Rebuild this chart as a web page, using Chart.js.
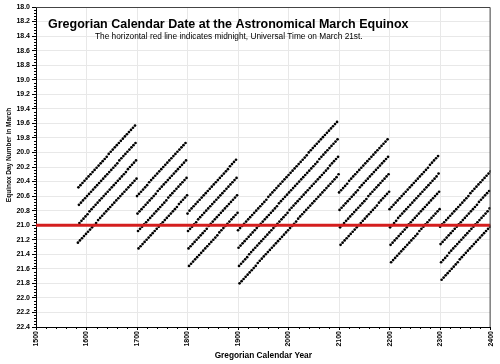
<!DOCTYPE html>
<html>
<head>
<meta charset="utf-8">
<title>Gregorian Calendar Date at the Astronomical March Equinox</title>
<script src="https://cdn.jsdelivr.net/npm/chart.js@4.4.0/dist/chart.umd.min.js"></script>
<style>
    html, body { margin: 0; padding: 0; background: #fff; }
</style>
</head>
<body>
<canvas id="equinox-chart" width="500" height="364"></canvas>
<script>
(function () {
    "use strict";

    // Equinox day number in March, one value per year.
    // Rows are four-year leap cycles.
    var eq1583 = [21.24,
        20.48, 20.72, 20.97, 21.21,
        20.45, 20.69, 20.94, 21.18,
        20.42, 20.66, 20.91, 21.15,
        20.39, 20.63, 20.88, 21.12];

    var eq1600 = [
        20.36, 20.60, 20.85, 21.09,  20.33, 20.57, 20.81, 21.06,
        20.30, 20.54, 20.78, 21.03,  20.27, 20.51, 20.75, 21.00,
        20.24, 20.48, 20.72, 20.97,  20.21, 20.45, 20.69, 20.93,
        20.18, 20.42, 20.66, 20.90,  20.15, 20.39, 20.63, 20.87,
        20.12, 20.36, 20.60, 20.84,  20.09, 20.33, 20.57, 20.81,
        20.06, 20.30, 20.54, 20.78,  20.02, 20.27, 20.51, 20.75,
        19.99, 20.24, 20.48, 20.72,  19.96, 20.21, 20.45, 20.69,
        19.93, 20.18, 20.42, 20.66,  19.90, 20.15, 20.39, 20.63,
        19.87, 20.11, 20.36, 20.60,  19.84, 20.08, 20.33, 20.57,
        19.81, 20.05, 20.30, 20.54,  19.78, 20.02, 20.27, 20.51,
        19.75, 19.99, 20.23, 20.48,  19.72, 19.96, 20.20, 20.45,
        19.69, 19.93, 20.17, 20.42,  19.66, 19.90, 20.14, 20.39,
        19.63, 19.87, 20.11, 20.36];

    var eq1700 = [
        20.60, 20.84, 21.08, 21.32,  20.57, 20.81, 21.05, 21.29,
        20.54, 20.78, 21.02, 21.26,  20.51, 20.75, 20.99, 21.23,
        20.48, 20.72, 20.96, 21.20,  20.45, 20.69, 20.93, 21.17,
        20.41, 20.66, 20.90, 21.14,  20.38, 20.63, 20.87, 21.11,
        20.35, 20.60, 20.84, 21.08,  20.32, 20.57, 20.81, 21.05,
        20.29, 20.53, 20.78, 21.02,  20.26, 20.50, 20.75, 20.99,
        20.23, 20.47, 20.72, 20.96,  20.20, 20.44, 20.69, 20.93,
        20.17, 20.41, 20.66, 20.90,  20.14, 20.38, 20.62, 20.87,
        20.11, 20.35, 20.59, 20.84,  20.08, 20.32, 20.56, 20.81,
        20.05, 20.29, 20.53, 20.78,  20.02, 20.26, 20.50, 20.75,
        19.99, 20.23, 20.47, 20.71,  19.96, 20.20, 20.44, 20.68,
        19.93, 20.17, 20.41, 20.65,  19.90, 20.14, 20.38, 20.62,
        19.87, 20.11, 20.35, 20.59];

    var eq1800 = [
        20.84, 21.08, 21.32, 21.56,  20.80, 21.05, 21.29, 21.53,
        20.77, 21.02, 21.26, 21.50,  20.74, 20.99, 21.23, 21.47,
        20.71, 20.96, 21.20, 21.44,  20.68, 20.92, 21.17, 21.41,
        20.65, 20.89, 21.14, 21.38,  20.62, 20.86, 21.11, 21.35,
        20.59, 20.83, 21.08, 21.32,  20.56, 20.80, 21.05, 21.29,
        20.53, 20.77, 21.01, 21.26,  20.50, 20.74, 20.98, 21.23,
        20.47, 20.71, 20.95, 21.20,  20.44, 20.68, 20.92, 21.17,
        20.41, 20.65, 20.89, 21.14,  20.38, 20.62, 20.86, 21.10,
        20.35, 20.59, 20.83, 21.07,  20.32, 20.56, 20.80, 21.04,
        20.29, 20.53, 20.77, 21.01,  20.26, 20.50, 20.74, 20.98,
        20.23, 20.47, 20.71, 20.95,  20.19, 20.44, 20.68, 20.92,
        20.16, 20.41, 20.65, 20.89,  20.13, 20.38, 20.62, 20.86,
        20.10, 20.35, 20.59, 20.83];

    var eq1900 = [
        21.07, 21.31, 21.56, 21.80,  21.04, 21.28, 21.53, 21.77,
        21.01, 21.25, 21.50, 21.74,  20.98, 21.22, 21.47, 21.71,
        20.95, 21.19, 21.44, 21.68,  20.92, 21.16, 21.40, 21.65,
        20.89, 21.13, 21.37, 21.62,  20.86, 21.10, 21.34, 21.59,
        20.83, 21.07, 21.31, 21.56,  20.80, 21.04, 21.28, 21.52,
        20.77, 21.01, 21.25, 21.49,  20.74, 20.98, 21.22, 21.46,
        20.71, 20.95, 21.19, 21.43,  20.68, 20.92, 21.16, 21.40,
        20.65, 20.89, 21.13, 21.37,  20.61, 20.86, 21.10, 21.34,
        20.58, 20.83, 21.07, 21.31,  20.55, 20.80, 21.04, 21.28,
        20.52, 20.77, 21.01, 21.25,  20.49, 20.74, 20.98, 21.22,
        20.46, 20.70, 20.95, 21.19,  20.43, 20.67, 20.92, 21.16,
        20.40, 20.64, 20.89, 21.13,  20.37, 20.61, 20.86, 21.10,
        20.34, 20.58, 20.83, 21.07];

    var eq2000 = [
        20.31, 20.55, 20.79, 21.04,  20.28, 20.52, 20.76, 21.01,
        20.25, 20.49, 20.73, 20.98,  20.22, 20.46, 20.70, 20.95,
        20.19, 20.43, 20.67, 20.91,  20.16, 20.40, 20.64, 20.88,
        20.13, 20.37, 20.61, 20.85,  20.10, 20.34, 20.58, 20.82,
        20.07, 20.31, 20.55, 20.79,  20.04, 20.28, 20.52, 20.76,
        20.00, 20.25, 20.49, 20.73,  19.97, 20.22, 20.46, 20.70,
        19.94, 20.19, 20.43, 20.67,  19.91, 20.16, 20.40, 20.64,
        19.88, 20.13, 20.37, 20.61,  19.85, 20.09, 20.34, 20.58,
        19.82, 20.06, 20.31, 20.55,  19.79, 20.03, 20.28, 20.52,
        19.76, 20.00, 20.25, 20.49,  19.73, 19.97, 20.22, 20.46,
        19.70, 19.94, 20.18, 20.43,  19.67, 19.91, 20.15, 20.40,
        19.64, 19.88, 20.12, 20.37,  19.61, 19.85, 20.09, 20.34,
        19.58, 19.82, 20.06, 20.30];

    var eq2100 = [
        20.55, 20.79, 21.03, 21.27,  20.52, 20.76, 21.00, 21.24,
        20.49, 20.73, 20.97, 21.21,  20.46, 20.70, 20.94, 21.18,
        20.43, 20.67, 20.91, 21.15,  20.39, 20.64, 20.88, 21.12,
        20.36, 20.61, 20.85, 21.09,  20.33, 20.58, 20.82, 21.06,
        20.30, 20.55, 20.79, 21.03,  20.27, 20.52, 20.76, 21.00,
        20.24, 20.48, 20.73, 20.97,  20.21, 20.45, 20.70, 20.94,
        20.18, 20.42, 20.67, 20.91,  20.15, 20.39, 20.64, 20.88,
        20.12, 20.36, 20.60, 20.85,  20.09, 20.33, 20.57, 20.82,
        20.06, 20.30, 20.54, 20.79,  20.03, 20.27, 20.51, 20.76,
        20.00, 20.24, 20.48, 20.73,  19.97, 20.21, 20.45, 20.69,
        19.94, 20.18, 20.42, 20.66,  19.91, 20.15, 20.39, 20.63,
        19.88, 20.12, 20.36, 20.60,  19.85, 20.09, 20.33, 20.57,
        19.82, 20.06, 20.30, 20.54];

    var eq2200 = [
        20.78, 21.03, 21.27, 21.51,  20.75, 21.00, 21.24, 21.48,
        20.72, 20.97, 21.21, 21.45,  20.69, 20.94, 21.18, 21.42,
        20.66, 20.90, 21.15, 21.39,  20.63, 20.87, 21.12, 21.36,
        20.60, 20.84, 21.09, 21.33,  20.57, 20.81, 21.06, 21.30,
        20.54, 20.78, 21.03, 21.27,  20.51, 20.75, 20.99, 21.24,
        20.48, 20.72, 20.96, 21.21,  20.45, 20.69, 20.93, 21.18,
        20.42, 20.66, 20.90, 21.15,  20.39, 20.63, 20.87, 21.12,
        20.36, 20.60, 20.84, 21.08,  20.33, 20.57, 20.81, 21.05,
        20.30, 20.54, 20.78, 21.02,  20.27, 20.51, 20.75, 20.99,
        20.24, 20.48, 20.72, 20.96,  20.21, 20.45, 20.69, 20.93,
        20.17, 20.42, 20.66, 20.90,  20.14, 20.39, 20.63, 20.87,
        20.11, 20.36, 20.60, 20.84,  20.08, 20.33, 20.57, 20.81,
        20.05, 20.29, 20.54, 20.78];

    var eq2300 = [
        21.02, 21.26, 21.51, 21.75,  20.99, 21.23, 21.48, 21.72,
        20.96, 21.20, 21.45, 21.69,  20.93, 21.17, 21.42, 21.66,
        20.90, 21.14, 21.38, 21.63,  20.87, 21.11, 21.35, 21.60,
        20.84, 21.08, 21.32, 21.57,  20.81, 21.05, 21.29, 21.54,
        20.78, 21.02, 21.26, 21.51,  20.75, 20.99, 21.23, 21.47,
        20.72, 20.96, 21.20, 21.44,  20.69, 20.93, 21.17, 21.41,
        20.66, 20.90, 21.14, 21.38,  20.63, 20.87, 21.11, 21.35,
        20.60, 20.84, 21.08, 21.32,  20.56, 20.81, 21.05, 21.29,
        20.53, 20.78, 21.02, 21.26,  20.50, 20.75, 20.99, 21.23,
        20.47, 20.72, 20.96, 21.20,  20.44, 20.68, 20.93, 21.17,
        20.41, 20.65, 20.90, 21.14,  20.38, 20.62, 20.87, 21.11,
        20.35, 20.59, 20.84, 21.08,  20.32, 20.56, 20.81, 21.05,
        20.29, 20.53, 20.77, 21.02,
        20.26];

    // first year of each block above
    var blockStartYears = [1583, 1600, 1700, 1800, 1900, 2000, 2100, 2200, 2300];
    var blocks = [eq1583, eq1600, eq1700, eq1800, eq1900, eq2000, eq2100, eq2200, eq2300];

    // midnight UT on March 21st
    var midnightLine = 21.0;

    var yearRange = [1500, 2400];
    var dayRange = [18.0, 22.4];

    var chartTitle = "Gregorian Calendar Date at the Astronomical March Equinox";
    var chartSubtitle = "The horizontal red line indicates midnight, Universal Time on March 21st.";
    var yTitle = "Equinox Day Number in March";
    var xTitle = "Gregorian Calendar Year";

    var points = [];
    blocks.forEach(function (block, b) {
        block.forEach(function (d, i) {
            points.push({ x: blockStartYears[b] + i, y: d });
        });
    });

    var FONT = "Arial, 'Liberation Sans', sans-serif";

    // Frame, minor ticks and titles
    var decor = {
        id: "decor",
        afterDraw: function (chart) {
            var ctx = chart.ctx, a = chart.chartArea;
            var xs = chart.scales.x, ys = chart.scales.y;
            ctx.save();

            ctx.strokeStyle = "#444";
            ctx.lineWidth = 1;
            ctx.beginPath();
            ctx.moveTo(a.left, a.top + 0.5);
            ctx.lineTo(a.right - 0.5, a.top + 0.5);
            ctx.lineTo(a.right - 0.5, a.bottom);
            ctx.stroke();

            ctx.strokeStyle = "#000";
            ctx.beginPath();
            for (var i = 0; i <= 110; i++) {
                if (i % 5 === 0) continue;
                var py = Math.round(ys.getPixelForValue(dayRange[0] + i * 0.04)) + 0.5;
                ctx.moveTo(a.left - 2, py);
                ctx.lineTo(a.left, py);
            }
            for (var yr = yearRange[0]; yr <= yearRange[1]; yr += 20) {
                if (yr % 100 === 0) continue;
                var px = Math.round(xs.getPixelForValue(yr)) + 0.5;
                ctx.moveTo(px, a.bottom);
                ctx.lineTo(px, a.bottom + 2);
            }
            ctx.stroke();

            ctx.fillStyle = "#000";
            ctx.textAlign = "left";
            ctx.textBaseline = "alphabetic";
            ctx.font = "bold 12.5px " + FONT;
            ctx.fillText(chartTitle, a.left + 12, 28);
            ctx.font = "8.3px " + FONT;
            ctx.fillText(chartSubtitle, a.left + 59, 39);

            ctx.translate(9.5, 155);
            ctx.rotate(-Math.PI / 2);
            ctx.textAlign = "center";
            ctx.textBaseline = "middle";
            ctx.font = "bold 6.5px " + FONT;
            ctx.fillText(yTitle, 0, 0);
            ctx.restore();
        }
    };

    // Equinox chart
    var ctx1 = document.getElementById("equinox-chart").getContext("2d");
    var myChart1 = new Chart(ctx1, {
        type: "scatter",
        data: {
            datasets: [{
                    type: "line",
                    label: "Midnight UT, March 21",
                    data: [{ x: yearRange[0], y: midnightLine }, { x: yearRange[1], y: midnightLine }],
                    borderColor: "#d41e1e",
                    borderWidth: 3,
                    pointRadius: 0,
                    order: 0
                },
                {
                    label: "Equinox",
                    data: points,
                    backgroundColor: "#000",
                    borderWidth: 0,
                    pointRadius: 1.35,
                    order: 1
                }
            ]
        },
        options: {
            responsive: false,
            animation: false,
            layout: { padding: { top: 7, right: 8, left: 0, bottom: 0 } },
            plugins: {
                legend: { display: false },
                tooltip: { enabled: false }
            },
            scales: {
                x: {
                    type: "linear",
                    min: yearRange[0],
                    max: yearRange[1],
                    afterFit: function (s) { s.height = 37; },
                    ticks: {
                        stepSize: 100,
                        minRotation: 90,
                        maxRotation: 90,
                        padding: 1,
                        color: "#000",
                        font: { family: FONT, size: 7, weight: "bold" },
                        callback: function (v) { return String(v); }
                    },
                    grid: { color: "#e8e8e8", tickColor: "#000", tickLength: 3 },
                    border: { color: "#000" },
                    title: {
                        display: true,
                        text: xTitle,
                        color: "#000",
                        padding: { top: 0, bottom: 3 },
                        font: { family: FONT, size: 8.3, weight: "bold" }
                    }
                },
                y: {
                    reverse: true,
                    min: dayRange[0],
                    max: dayRange[1],
                    afterFit: function (s) { s.width = 36; },
                    ticks: {
                        stepSize: 0.2,
                        padding: 2,
                        color: "#000",
                        font: { family: FONT, size: 7, weight: "bold" },
                        callback: function (v) { return v.toFixed(1); }
                    },
                    grid: { color: "#e8e8e8", tickColor: "#000", tickLength: 4 },
                    border: { color: "#000" }
                }
            }
        },
        plugins: [decor]
    });

})();
</script>
</body>
</html>
